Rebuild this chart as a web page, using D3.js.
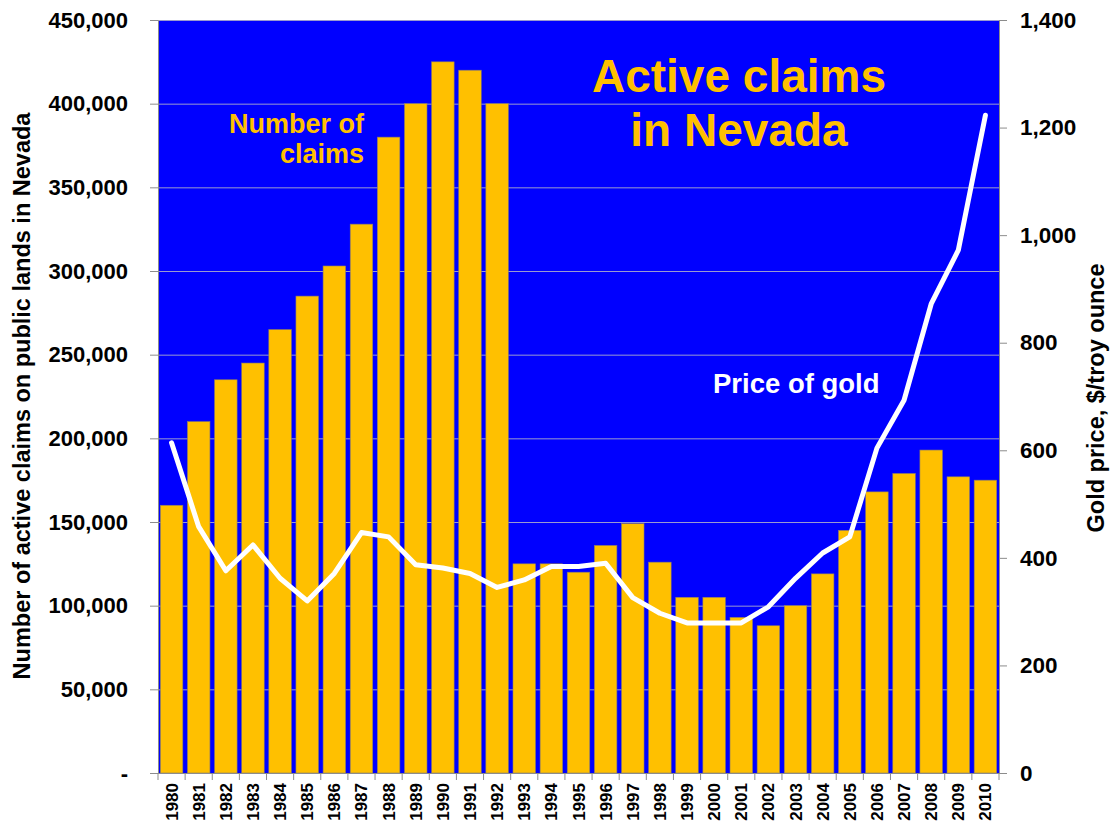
<!DOCTYPE html>
<html>
<head>
<meta charset="utf-8">
<script src="https://cdn.jsdelivr.net/npm/d3@7"></script>
<style>
body { margin: 0; background: #fff; }
svg text { font-family: "Liberation Sans", Arial, sans-serif; font-weight: bold; }
</style>
</head>
<body>
<div id="chart"></div>
<script>
var years = [1980, 1981, 1982, 1983, 1984, 1985, 1986, 1987, 1988, 1989,
    1990, 1991, 1992, 1993, 1994, 1995, 1996, 1997, 1998, 1999,
    2000, 2001, 2002, 2003, 2004, 2005, 2006, 2007, 2008, 2009, 2010];

var claims = [160000, 210000, 235000, 245000, 265000, 285000, 303000, 328000, 380000, 400000,
    425000, 420000, 400000, 125000, 125000, 120000, 136000, 149000, 126000, 105000,
    105000, 93000, 88000, 100000, 119000, 145000, 168000, 179000, 193000, 177000, 175000];

var goldPrice = [614, 458, 376, 424, 362, 320, 371, 447, 439, 387,
    381, 371, 345, 359, 384, 384, 390, 326, 297, 279,
    279, 279, 309, 362, 409, 439, 604, 693, 872, 972, 1223];

var claimTicks = [0, 50000, 100000, 150000, 200000, 250000, 300000, 350000, 400000, 450000];
var priceTicks = [0, 200, 400, 600, 800, 1000, 1200, 1400];

var cx = 1111, cy = 823;
var padding = { top: 20, right: 112, bottom: 50, left: 158 };
var width = cx - padding.left - padding.right;
var height = cy - padding.top - padding.bottom;

var svg = d3.select("#chart").append("svg")
    .attr("width", cx)
    .attr("height", cy);

var vis = svg.append("g")
    .attr("transform", "translate(" + padding.left + "," + padding.top + ")");

var x = d3.scaleBand()
    .domain(years)
    .range([0, width])
    .paddingInner(0.17)
    .paddingOuter(0.085);

var y = d3.scaleLinear().domain([0, 450000]).range([height, 0]);
var y2 = d3.scaleLinear().domain([0, 1400]).range([height, 0]);

// plot background
vis.append("rect")
    .attr("width", width)
    .attr("height", height)
    .attr("fill", "#0000ff");

// gridlines
vis.append("g").selectAll("line")
    .data(claimTicks.slice(1))
    .enter().append("line")
    .attr("x1", 0).attr("x2", width)
    .attr("y1", function(d) { return y(d) + 0.5; })
    .attr("y2", function(d) { return y(d) + 0.5; })
    .attr("stroke", "#9a9ad0")
    .attr("stroke-width", 1);

// bars
vis.append("g").selectAll("rect")
    .data(years)
    .enter().append("rect")
    .attr("x", function(d) { return x(d); })
    .attr("y", function(d, i) { return y(claims[i]); })
    .attr("width", x.bandwidth())
    .attr("height", function(d, i) { return height - y(claims[i]); })
    .attr("fill", "#ffc000")
    .attr("stroke", "#8a7c6a")
    .attr("stroke-width", 0.6);

// gold price line
var line = d3.line()
    .x(function(d, i) { return x(years[i]) + x.bandwidth() / 2; })
    .y(function(d) { return y2(d); });

vis.append("path")
    .datum(goldPrice)
    .attr("d", line)
    .attr("fill", "none")
    .attr("stroke", "#ffffff")
    .attr("stroke-width", 5)
    .attr("stroke-linejoin", "round")
    .attr("stroke-linecap", "round");

// left axis
var yAxis = d3.axisLeft(y)
    .tickValues(claimTicks)
    .tickSize(8)
    .tickSizeOuter(0)
    .tickPadding(22)
    .tickFormat(function(d) { return d === 0 ? "-" : d3.format(",")(d); });

var gy = vis.append("g").call(yAxis);
gy.selectAll("text").style("font-size", "22px").attr("fill", "#000");

// right axis
var y2Axis = d3.axisRight(y2)
    .tickValues(priceTicks)
    .tickSize(8)
    .tickSizeOuter(0)
    .tickPadding(13)
    .tickFormat(d3.format(","));

var gy2 = vis.append("g")
    .attr("transform", "translate(" + width + ",0)")
    .call(y2Axis);
gy2.selectAll("text").style("font-size", "22.5px").attr("fill", "#000");

[gy, gy2].forEach(function(g) {
    g.select(".domain").attr("stroke", "#8c8c8c");
    g.selectAll(".tick line").attr("stroke", "#8c8c8c");
});

// bottom axis line + ticks at band boundaries
var gx = vis.append("g").attr("transform", "translate(0," + height + ")");
gx.append("line")
    .attr("x1", 0).attr("x2", width + 8)
    .attr("y1", 0.5).attr("y2", 0.5)
    .attr("stroke", "#8c8c8c");

var step = x.step();
gx.selectAll(".xtick")
    .data(d3.range(years.length + 1))
    .enter().append("line")
    .attr("class", "xtick")
    .attr("x1", function(d) { return d * step; })
    .attr("x2", function(d) { return d * step; })
    .attr("y1", 0).attr("y2", 7)
    .attr("stroke", "#8c8c8c");

gx.selectAll(".xlabel")
    .data(years)
    .enter().append("text")
    .attr("class", "xlabel")
    .attr("transform", function(d) {
        return "translate(" + (x(d) + x.bandwidth() / 2 + 6) + ",10) rotate(-90)";
    })
    .attr("text-anchor", "end")
    .style("font-size", "17px")
    .text(function(d) { return d; });

// axis titles
svg.append("text")
    .attr("transform", "translate(30,396) rotate(-90)")
    .attr("text-anchor", "middle")
    .style("font-size", "23.5px")
    .text("Number of active claims on public lands in Nevada");

svg.append("text")
    .attr("transform", "translate(1104,398) rotate(-90)")
    .attr("text-anchor", "middle")
    .style("font-size", "23.5px")
    .text("Gold price, $/troy ounce");

// title and annotations
var title = vis.append("text")
    .attr("text-anchor", "middle")
    .attr("fill", "#ffc000")
    .style("font-size", "46px");
title.append("tspan").attr("x", 739 - padding.left).attr("y", 92 - padding.top).text("Active claims");
title.append("tspan").attr("x", 739 - padding.left).attr("y", 146 - padding.top).text("in Nevada");

var nlabel = vis.append("text")
    .attr("text-anchor", "end")
    .attr("fill", "#ffc000")
    .style("font-size", "27px");
nlabel.append("tspan").attr("x", 364 - padding.left).attr("y", 133 - padding.top).text("Number of");
nlabel.append("tspan").attr("x", 364 - padding.left).attr("y", 163 - padding.top).text("claims");

vis.append("text")
    .attr("x", 713 - padding.left)
    .attr("y", 393 - padding.top)
    .attr("fill", "#ffffff")
    .style("font-size", "27.5px")
    .text("Price of gold");
</script>
</body>
</html>
